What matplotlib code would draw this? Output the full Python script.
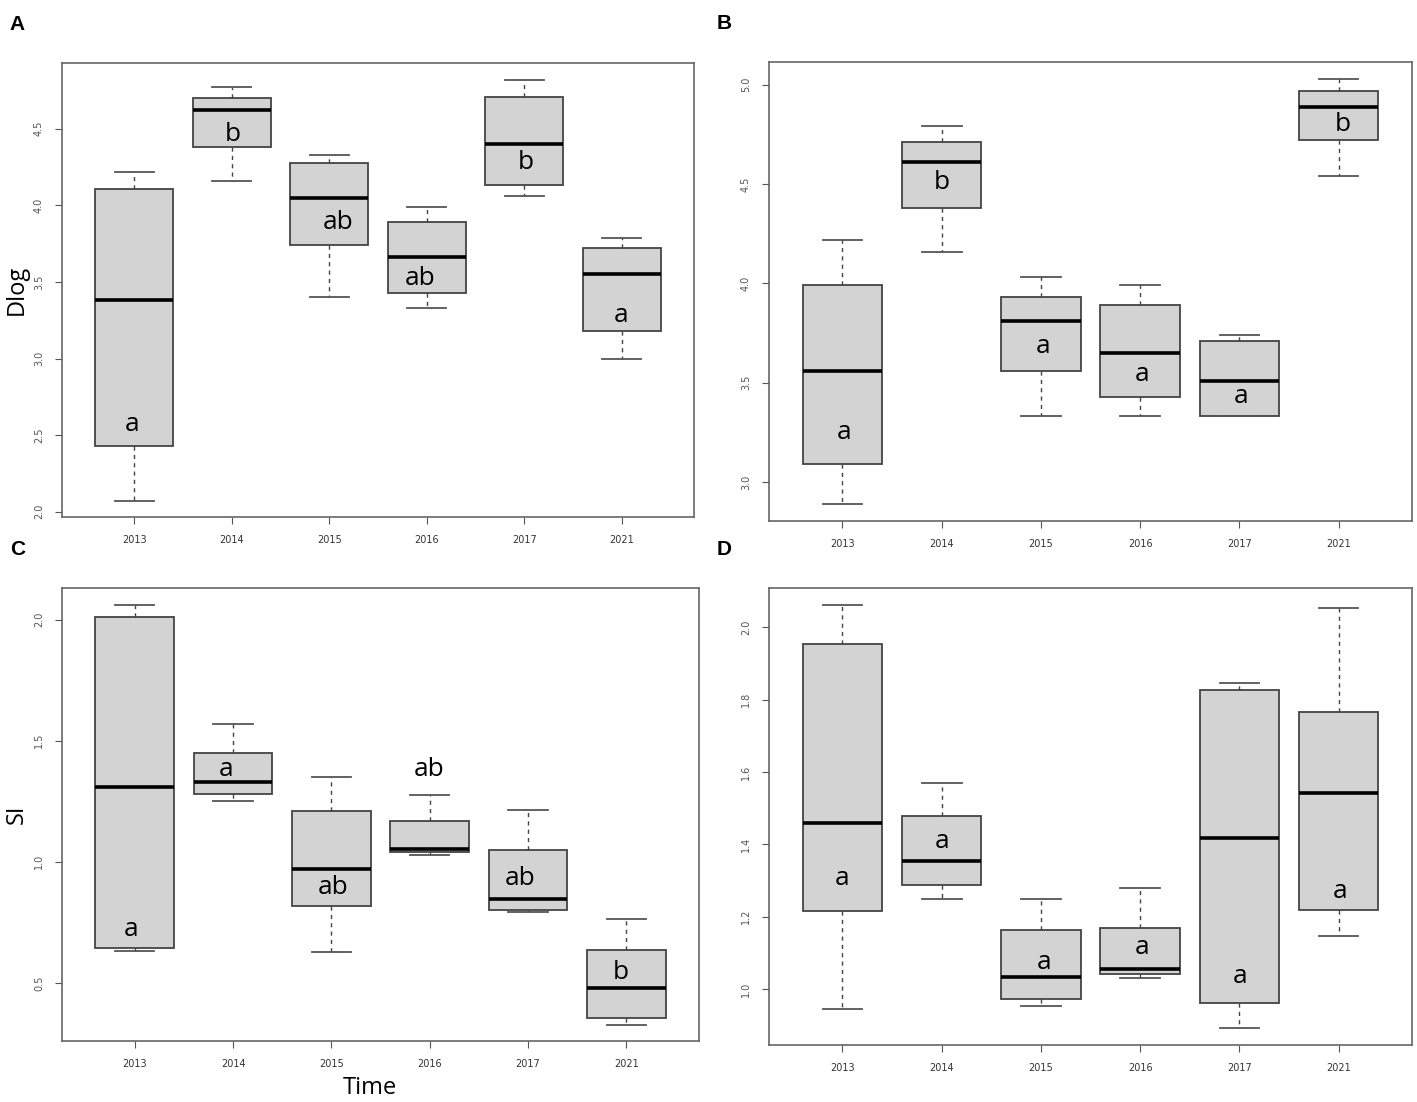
import matplotlib.pyplot as plt

years = ["2013", "2014", "2015", "2016", "2017", "2021"]

# five-number summaries: low whisker, Q1, median, Q3, high whisker
a_low = [2.07, 4.16, 3.40, 3.33, 4.06, 3.00]
a_q1 = [2.43, 4.38, 3.74, 3.43, 4.13, 3.18]
a_med = [3.38, 4.62, 4.05, 3.66, 4.40, 3.55]
a_q3 = [4.11, 4.70, 4.28, 3.89, 4.71, 3.72]
a_high = [4.22, 4.77, 4.33, 3.99, 4.82, 3.79]
a_letters = ["a", "b", "ab", "ab", "b", "a"]
a_letter_y = [2.57, 4.46, 3.89, 3.52, 4.28, 3.28]
a_letter_dx = [-0.02, 0.01, 0.09, -0.07, 0.02, -0.01]

b_low = [2.89, 4.16, 3.33, 3.33, 3.33, 4.54]
b_q1 = [3.09, 4.38, 3.56, 3.43, 3.33, 4.72]
b_med = [3.56, 4.61, 3.81, 3.65, 3.51, 4.89]
b_q3 = [3.99, 4.71, 3.93, 3.89, 3.71, 4.97]
b_high = [4.22, 4.79, 4.03, 3.99, 3.74, 5.03]
b_letters = ["a", "b", "a", "a", "a", "b"]
b_letter_y = [3.25, 4.51, 3.68, 3.54, 3.43, 4.80]
b_letter_dx = [0.02, 0.0, 0.02, 0.02, 0.02, 0.04]

c_low = [0.633, 1.25, 0.628, 1.027, 0.794, 0.328]
c_q1 = [0.646, 1.28, 0.817, 1.039, 0.800, 0.357]
c_med = [1.31, 1.33, 0.970, 1.052, 0.847, 0.480]
c_q3 = [2.01, 1.45, 1.21, 1.167, 1.049, 0.637]
c_high = [2.06, 1.57, 1.35, 1.276, 1.215, 0.765]
c_letters = ["a", "a", "ab", "ab", "ab", "b"]
c_letter_y = [0.72, 1.38, 0.895, 1.38, 0.93, 0.545]
c_letter_dx = [-0.04, -0.07, 0.02, -0.01, -0.08, -0.06]

d_low = [0.946, 1.25, 0.954, 1.031, 0.892, 1.146]
d_q1 = [1.216, 1.287, 0.972, 1.041, 0.961, 1.218]
d_med = [1.458, 1.353, 1.033, 1.056, 1.418, 1.543]
d_q3 = [1.954, 1.478, 1.163, 1.168, 1.828, 1.765]
d_high = [2.061, 1.570, 1.250, 1.278, 1.845, 2.054]
d_letters = ["a", "a", "a", "a", "a", "a"]
d_letter_y = [1.306, 1.408, 1.073, 1.114, 1.035, 1.271]
d_letter_dx = [0.0, 0.0, 0.03, 0.02, 0.01, 0.01]

a_ticks = [2.0, 2.5, 3.0, 3.5, 4.0, 4.5]
b_ticks = [3.0, 3.5, 4.0, 4.5, 5.0]
c_ticks = [0.5, 1.0, 1.5, 2.0]
d_ticks = [1.0, 1.2, 1.4, 1.6, 1.8, 2.0]

fig = plt.figure(figsize=(14.17, 11.02), dpi=100)


def panel(rect, low, q1, med, q3, high, letters, ly, ldx, ylim, yticks, tag, ylabel=None, xlabel=None):
    ax = fig.add_axes(rect)
    stats = []
    for i in range(len(years)):
        stats.append({"whislo": low[i], "q1": q1[i], "med": med[i], "q3": q3[i],
                      "whishi": high[i], "fliers": [], "label": years[i]})
    pos = list(range(1, len(years) + 1))
    ax.bxp(stats, positions=pos, widths=0.8, capwidths=0.4, patch_artist=True,
           showfliers=False,
           boxprops=dict(facecolor="#d3d3d3", edgecolor="#444444", linewidth=1.3),
           medianprops=dict(color="black", linewidth=2.6),
           whiskerprops=dict(color="#444444", linewidth=1.0, linestyle=(0, (3, 3))),
           capprops=dict(color="#555555", linewidth=1.3))
    for i in range(len(years)):
        ax.text(pos[i] + ldx[i], ly[i], letters[i], ha="center", va="center",
                fontsize=19, family="Open Sans", color="black")
    ax.set_xlim(0.26, 6.74)
    ax.set_ylim(*ylim)
    ax.set_xticks(pos)
    ax.set_xticklabels(years, fontsize=7, color="#333333")
    ax.set_yticks(yticks)
    ax.set_yticklabels(["%.1f" % t for t in yticks], fontsize=7, color="#555555",
                       rotation=90, va="center")
    ax.tick_params(axis="both", direction="out", length=5, color="#555555", width=0.8, pad=8)
    for s in ax.spines.values():
        s.set_color("#666666")
        s.set_linewidth(1.2)
    fig.text(rect[0] - 0.037, rect[1] + rect[3] + 0.035, tag, fontsize=15,
             fontweight="bold", family="Liberation Sans", va="center")
    if ylabel:
        ax.set_ylabel(ylabel, fontsize=17, family="Open Sans", va="center")
        ax.yaxis.set_label_coords(-0.071, 0.5)
    if xlabel:
        ax.set_xlabel(xlabel, fontsize=17, family="Open Sans", va="center")
        ax.xaxis.set_label_coords(0.4835, -0.104)
    return ax


panel([0.0438, 0.531, 0.446, 0.412], a_low, a_q1, a_med, a_q3, a_high,
      a_letters, a_letter_y, a_letter_dx, (1.966, 4.931), a_ticks, "A", ylabel="Dlog")
panel([0.5427, 0.527, 0.4538, 0.4165], b_low, b_q1, b_med, b_q3, b_high,
      b_letters, b_letter_y, b_letter_dx, (2.802, 5.113), b_ticks, "B")
panel([0.0438, 0.0554, 0.4495, 0.411], c_low, c_q1, c_med, c_q3, c_high,
      c_letters, c_letter_y, c_letter_dx, (0.261, 2.130), c_ticks, "C", ylabel="SI", xlabel="Time")
panel([0.5427, 0.0517, 0.4538, 0.4147], d_low, d_q1, d_med, d_q3, d_high,
      d_letters, d_letter_y, d_letter_dx, (0.845, 2.109), d_ticks, "D")

plt.savefig("out.png", dpi=100)
